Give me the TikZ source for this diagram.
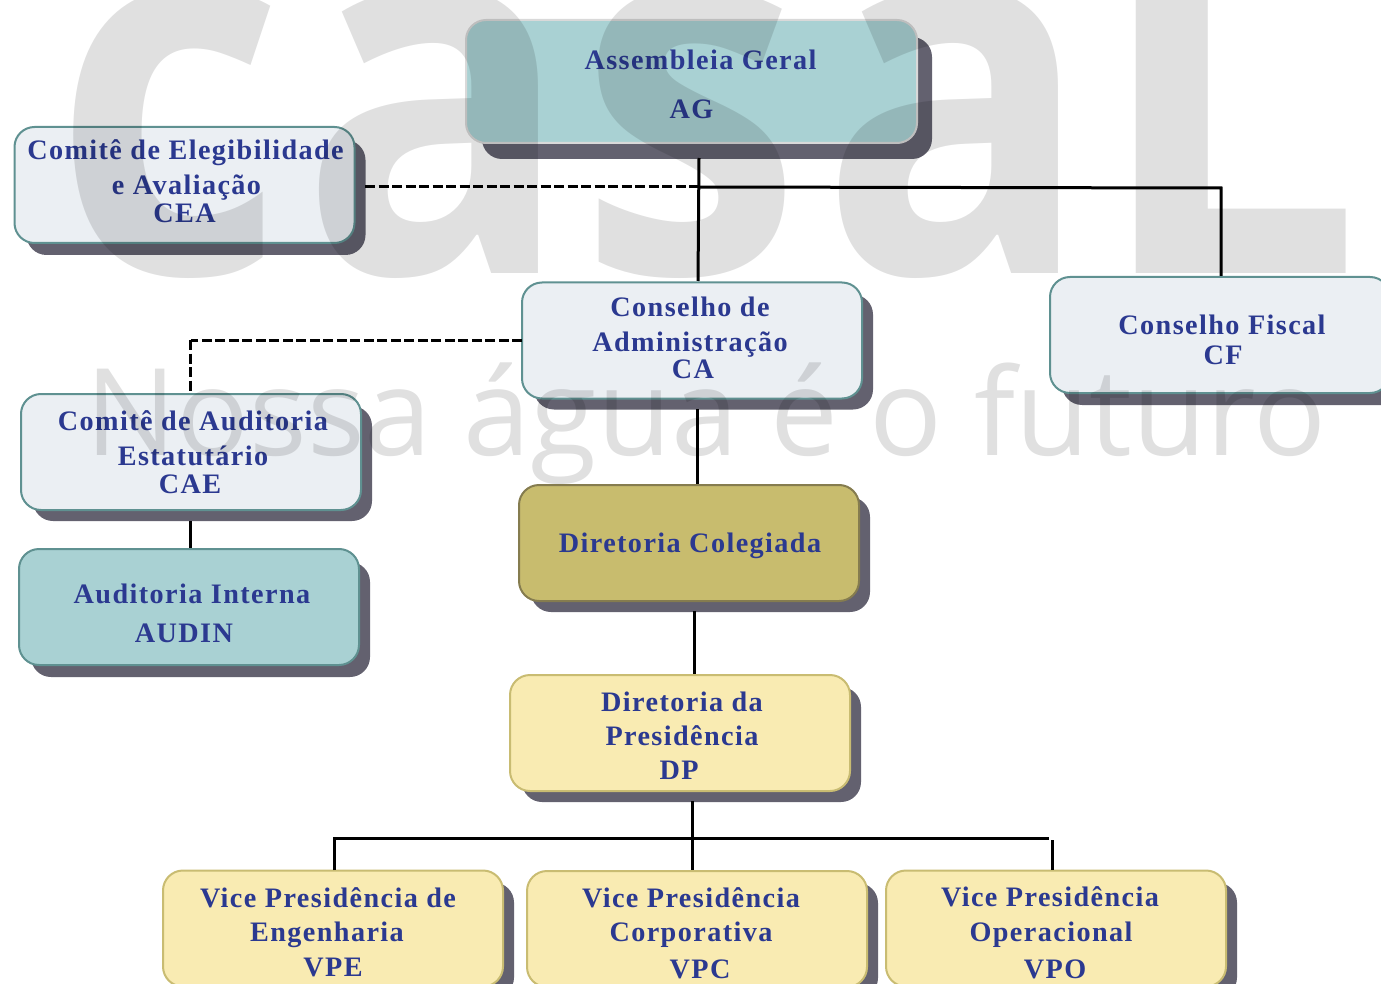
\documentclass[tikz,border=0pt]{standalone}
\usepackage{fontspec}
\usetikzlibrary{calc, backgrounds}
\setmainfont{Liberation Serif}
\newfontfamily\boxfont[LetterSpace=5]{Liberation Serif}
\newfontfamily\markfont{Open Sans}
\newfontfamily\logofont[FakeStretch=0.84]{Open Sans}
\definecolor{inktext}{HTML}{2B3990}
\definecolor{tealfill}{HTML}{A9D1D3}
\definecolor{palefill}{HTML}{EBEFF3}
\definecolor{tealline}{HTML}{5F9191}
\definecolor{goldfill}{HTML}{C8BC6E}
\definecolor{goldline}{HTML}{857C4F}
\definecolor{creamfill}{HTML}{F9EBB2}
\definecolor{creamline}{HTML}{C9BC72}
\definecolor{shadefill}{HTML}{63616F}
% moves one line of a box by dx, dy without changing the layout
\newcommand{\nudge}[3]{\raisebox{-#2pt}[\height][\depth]{\kern#1pt\relax #3\kern-#1pt\relax}}
\tikzset{
  orgbox/.style={draw, line width=2pt, rounded corners=20pt, minimum width=340pt, minimum height=116pt,
    inner sep=0pt, align=center, text=inktext, font=\boxfont\bfseries\fontsize{28.2}{34}\selectfont},
  palebox/.style={orgbox, fill=palefill, draw=tealline},
  tealbox/.style={orgbox, fill=tealfill, draw=tealline},
  creambox/.style={orgbox, fill=creamfill, draw=creamline},
  goldbox/.style={orgbox, fill=goldfill, draw=goldline},
  solidline/.style={line width=3pt, line join=miter},
  dashline/.style={line width=3pt, dash pattern=on 10pt off 3.5pt},
  markletter/.style={text=black, opacity=0.12, inner sep=0pt, anchor=base west, font=\logofont\bfseries\fontsize{515}{515}\selectfont},
  markline/.style={text=black, opacity=0.12, inner sep=0pt, anchor=base west, font=\markfont\fontsize{121}{121}\selectfont},
}
\begin{document}
\begin{tikzpicture}[x=1pt,y=-1pt]
  \useasboundingbox (0,0) rectangle (1381,984);
  \clip (0,0) rectangle (1381,984);
  % boxes
  \node[tealbox, minimum width=451pt, minimum height=123pt, draw=gray!30] (ag) at (691.5,81.5)
    {\nudge{9}{3}{Assembleia Geral}\\[15pt]\nudge{0}{3}{AG}};
  \node[palebox] (cea) at (184.5,185)
    {\nudge{1}{-5}{Comitê de Elegibilidade}\\\nudge{2}{-4}{e Avaliação}\\[-7pt]\nudge{0}{-3}{CEA}};
  \node[palebox] (ca) at (692,340.5)
    {\nudge{-2}{-3}{Conselho de}\\\nudge{-2}{-2}{Administração}\\[-7pt]\nudge{1}{-2}{CA}};
  \node[palebox] (cf) at (1220,335)
    {\nudge{2}{5}{Conselho Fiscal}\\[-4pt]\nudge{3}{5}{CF}};
  \node[palebox] (cae) at (191,452)
    {\nudge{2}{-1}{Comitê de Auditoria}\\\nudge{2}{0}{Estatutário}\\[-7pt]\nudge{-1}{1}{CAE}};
  \node[tealbox] (audin) at (189,607)
    {\nudge{3}{6}{Auditoria Interna}\\[4pt]\nudge{-5}{7}{AUDIN}};
  \node[goldbox] (dc) at (689,543) {\nudge{1}{3}{Diretoria Colegiada}};
  \node[creambox] (dp) at (680,733)
    {\nudge{2}{3}{Diretoria da}\\\nudge{2}{3}{Presidência}\\\nudge{-1}{3}{DP}};
  \node[creambox] (vpe) at (333,928.5)
    {\nudge{-5}{3}{Vice Presidência de}\\\nudge{-6}{3}{Engenharia}\\\nudge{0}{4}{VPE}};
  \node[creambox] (vpc) at (697,929)
    {\nudge{-6}{3}{Vice Presidência}\\\nudge{-6}{3}{Corporativa}\\\nudge{3}{6}{VPC}};
  \node[creambox] (vpo) at (1056,928.5)
    {\nudge{-6}{2}{Vice Presidência}\\\nudge{-5}{3}{Operacional}\\\nudge{-1}{6}{VPO}};
  % shadows
  \begin{scope}[on background layer]
    \foreach \bx/\sx/\sy in {ag/14/15, cea/10/11, ca/10/10, cf/10/11, cae/10/10, audin/10/11, dc/10/10, dp/10/10, vpe/10/10, vpc/10/10, vpo/10/10}
      \fill[shadefill, rounded corners=20pt] ($(\bx.south west)+(\sx+3,\sy)$) rectangle ($(\bx.north east)+(\sx,\sy+3)$);
  \end{scope}
  % connectors
  \coordinate (agfoot) at (699,158);
  \coordinate (catop) at (698,281);
  \coordinate (cfjoin) at (1221,188);
  \coordinate (ceaend) at (365,187);
  \coordinate (agjoin) at (699,187);
  \coordinate (caleft) at (522,340);
  \coordinate (caefoot) at (190,521);
  \coordinate (cafoot) at (697,409);
  \coordinate (dcfoot) at (694,611);
  \coordinate (dpfoot) at (692,801);
  \coordinate (vpbar) at (692,838);
  \draw[solidline] (agfoot) -- (catop);
  \draw[solidline] (agjoin) -- (cfjoin) -- (cfjoin |- cf.north);
  \draw[dashline] (ceaend) -- (agjoin);
  \draw[dashline] (caleft) -- (caleft -| cae.north) ++(-1,0) -- ++(0,54);
  \draw[solidline] (caefoot) -- (caefoot |- audin.north);
  \draw[solidline] (cafoot) -- (cafoot |- dc.north);
  \draw[solidline] (dcfoot) -- (dcfoot |- dp.north);
  \draw[solidline] (dpfoot) -- (dpfoot |- vpc.north);
  \draw[solidline] (334,870) |- (vpbar) -- (1049,838);
  \draw[solidline] (1052,840) -- (1052,870);
  % watermark
  \foreach \lt/\lx/\nm in {c/53/mc, a/300/ma, s/578/ms, a/820/mb}
    \node[markletter] (\nm) at (\lx,274) {\scalebox{1.04}[1]{\lt}};
  \node[markletter] (ml) at (1093,274) {\scalebox{1.1}[1]{L}};
  \node[markline] (slogan) at (85,455) {Nossa água é o futuro};
\end{tikzpicture}
\end{document}
